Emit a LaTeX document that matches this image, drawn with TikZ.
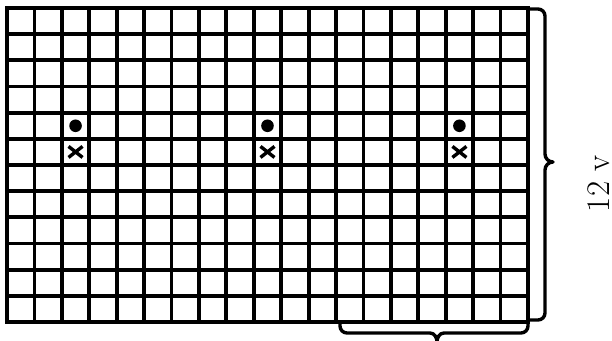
\documentclass[tikz,border=0pt]{standalone}
\usepackage{fontspec}
\usepackage{tikz}

\begin{document}
\begin{tikzpicture}[x=1pt, y=1pt,
    gridline/.style={line width=3.8pt, line cap=rect},
    bracepath/.style={line width=3.4pt, line cap=round, line join=round},
    stitchdot/.style={fill=black},
    stitchx/.style={line width=3.4pt}]
    \useasboundingbox (0,0) rectangle (612,340);
    \def\cw{27.42}
    \def\ch{26.17}

    % 1. grid of 19 columns and 12 rows
    \foreach \i in {0,...,19}
        \draw[gridline] ({7+\i*\cw}, 18) -- ({7+\i*\cw}, 332);
    \foreach \j in {0,...,12}
        \draw[gridline] (7, {18+\j*\ch}) -- (528, {18+\j*\ch});

    % 2. dot above a cross, every 7 columns
    \foreach \c in {2,9,16} {
        \fill[stitchdot] ({7+(\c+0.5)*\cw}, {332-4.5*\ch}) circle (6.3);
        \draw[stitchx] ({7+(\c+0.5)*\cw-7}, {332-5.5*\ch+5.5}) -- ({7+(\c+0.5)*\cw+7}, {332-5.5*\ch-5.5});
        \draw[stitchx] ({7+(\c+0.5)*\cw-7}, {332-5.5*\ch-5.5}) -- ({7+(\c+0.5)*\cw+7}, {332-5.5*\ch+5.5});
    }

    % 3. brace along the right side, with its label
    \draw[bracepath] (528,331) -- (538,331) to[out=0, in=90] (545,324) -- (545,186)
        to[out=-90, in=180] (553,178) to[out=180, in=90] (545,170) -- (545,27)
        to[out=-90, in=0] (538,20) -- (528,20);
    \node[rotate=90, inner sep=0pt] (rowlabel) at (599,156) {\fontsize{33}{36}\selectfont 12 v};

    % 4. brace under the last 7 columns
    \draw[bracepath] (340,18) -- (340,14) to[out=-90, in=180] (347,7) -- (430,7)
        to[out=0, in=90] (437,-2) to[out=90, in=180] (444,7) -- (521,7)
        to[out=0, in=-90] (528,14) -- (528,18);
\end{tikzpicture}
\end{document}
